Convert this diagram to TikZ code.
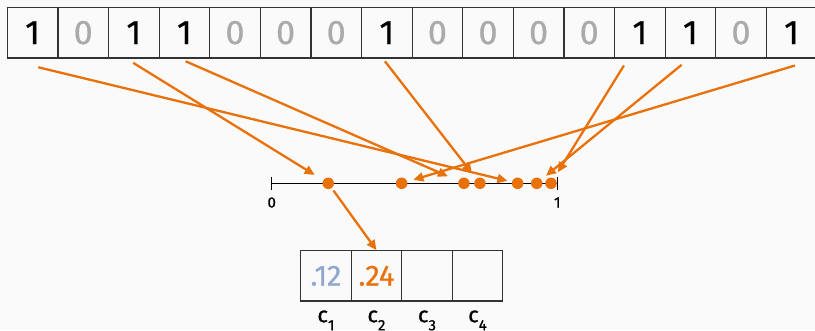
\documentclass[tikz,border=0pt]{standalone}
\usepackage{fontspec}
\setmainfont{Fira Sans}[FakeBold=0.7]
\usetikzlibrary{arrows.meta,calc}
\definecolor{hashorange}{HTML}{E8710A}
\definecolor{softblue}{HTML}{8FA8CC}
\definecolor{zerogray}{HTML}{AAAAAA}
\definecolor{edgegray}{HTML}{333333}
\definecolor{paper}{HTML}{FAFAFA}
\tikzset{
  cell/.style={draw=edgegray, line width=1.2pt, minimum size=50.6pt, inner sep=0pt,
    font=\fontsize{34}{34}\selectfont},
  bit1/.style={text=black},
  bit0/.style={text=zerogray},
  dot/.style={circle, fill=hashorange, minimum size=11.5pt, inner sep=0pt},
  hash/.style={draw=hashorange, line width=2.3pt, -{Triangle[length=10pt,width=9pt]}},
  slot/.style={draw=edgegray, line width=1.2pt, minimum width=50.5pt, minimum height=50.3pt,
    inner sep=0pt, font=\fontsize{29}{29}\selectfont},
  ticklab/.style={font=\fontsize{15}{15}\selectfont, inner sep=0pt},
  slotlab/.style={font=\fontsize{22}{22}\selectfont, inner sep=0pt, anchor=base},
}
\newcommand{\sublow}[1]{\raisebox{-8pt}{\fontsize{15}{15}\selectfont #1}}
\begin{document}
\begin{tikzpicture}[x=1pt, y=-1pt]
    \fill[paper] (0,0) rectangle (815,330);
    \useasboundingbox (0,0) rectangle (815,330);
    % Bit array
    \foreach \b [count=\i from 0] in {1,0,1,1,0,0,0,1,0,0,0,0,1,1,0,1}
        \node[cell, bit\b] (b\i) at (32.6+50.6*\i, 32.65) {\b};
    % Unit interval
    \coordinate (lo) at (271.7,183.3);
    \coordinate (hi) at (557.3,183.3);
    \draw[line width=1.5pt] (lo) -- (hi);
    \draw[line width=1.5pt] ($(lo)+(0,-6.7)$) -- ($(lo)+(0,6.7)$);
    \draw[line width=1.5pt] ($(hi)+(0,-6.7)$) -- ($(hi)+(0,6.7)$);
    \node[ticklab] (t0) at ($(lo)+(0,19.2)$) {0};
    \node[ticklab] (t1) at ($(hi)+(0,19.2)$) {1};
    % Hashed positions
    \node[dot] (h1) at ($(lo)!0.198!(hi)$) {};
    \node[dot] (h2) at ($(lo)!0.455!(hi)$) {};
    \node[dot] (h3) at ($(lo)!0.673!(hi)$) {};
    \node[dot] (h4) at ($(lo)!0.729!(hi)$) {};
    \node[dot] (h5) at ($(lo)!0.861!(hi)$) {};
    \node[dot] (h6) at ($(lo)!0.928!(hi)$) {};
    \node[dot] (h7) at ($(lo)!0.978!(hi)$) {};
    \foreach \s/\dx/\dy/\t/\g in {0/5.7/8.7/h5/4.5, 2/-0.6/4.3/h1/10, 3/1.2/2.7/h3/11.5,
        7/-1.9/2.7/h4/6.9, 12/-15.9/7/h7/7, 13/-8.8/6.3/h6/6, 15/3.3/7/h2/6.3}
        \draw[hash, shorten >=\g pt] ([shift={(\dx,\dy)}]b\s.south) -- (\t);
    % Counters
    \node[slot, text=softblue] (s1) at (325.95,275.85) {.12};
    \node[slot, text=hashorange] (s2) at (376.45,275.85) {.24};
    \node[slot] (s3) at (426.95,275.85) {};
    \node[slot] (s4) at (477.45,275.85) {};
    \foreach \k in {1,...,4}
        \node[slotlab] (c\k) at ($(s\k.south)+(0,20.7)$) {c\sublow{\k}};
    \draw[hash, shorten <=3pt] (h1) -- (s2.north);
\end{tikzpicture}
\end{document}
